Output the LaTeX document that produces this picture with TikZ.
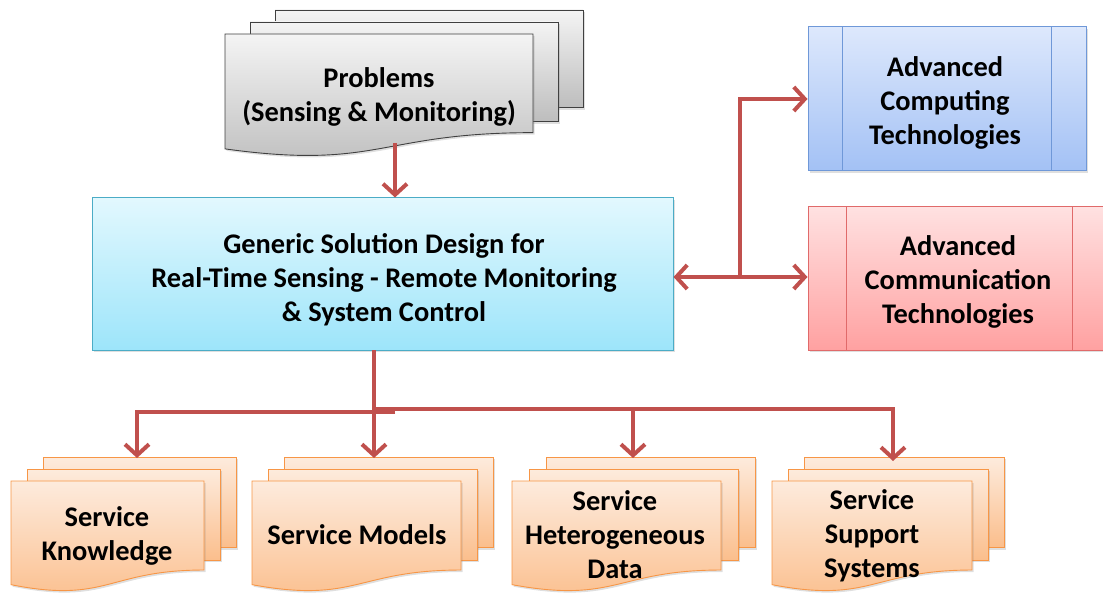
\documentclass[tikz,border=0pt]{standalone}
\usepackage{fontspec}
\setmainfont{Carlito}
\usetikzlibrary{arrows.meta,shadows}
\definecolor{arr}{HTML}{C0504D}
\definecolor{grayT}{HTML}{F4F4F4}
\definecolor{grayB}{HTML}{BDBDBD}
\definecolor{grayL}{HTML}{404040}
\definecolor{orT}{HTML}{FDEBDD}
\definecolor{orB}{HTML}{FBBE8C}
\definecolor{orL}{HTML}{F79646}
\definecolor{cyT}{HTML}{E2F8FE}
\definecolor{cyB}{HTML}{9DE5FA}
\definecolor{cyL}{HTML}{4BACC6}
\definecolor{blT}{HTML}{DDE8FC}
\definecolor{blB}{HTML}{A3C1F5}
\definecolor{blL}{HTML}{6F98D8}
\definecolor{rdT}{HTML}{FFE1E1}
\definecolor{rdB}{HTML}{FFA1A1}
\definecolor{rdL}{HTML}{E06A6A}
\newcommand{\mdoc}[7]{%
  \path[#1] ({#2+2*#6},{#3-2*#7}) rectangle ({#2+#4+2*#6},{#3+0.6*#5});
  \path[#1] ({#2+#6},{#3-#7}) rectangle ({#2+#4+#6},{#3+0.714*#5});
  \path[#1] (#2,#3) -- ({#2+#4},#3) -- ({#2+#4},{#3+0.802*#5})
    .. controls ({#2+#4/2},{#3+0.802*#5}) and ({#2+#4/2},{#3+1.1075*#5}) .. (#2,{#3+0.934*#5}) -- cycle;}
\tikzset{
  shd/.style={drop shadow={opacity=0.25,shadow xshift=1.5pt,shadow yshift=-2pt}},
  graydoc/.style={draw=grayL,line width=0.9pt,top color=grayT,bottom color=grayB,shd},
  ordoc/.style={draw=orL,line width=0.9pt,top color=orT,bottom color=orB,shd},
  txt/.style={font=\fontsize{28.4}{34}\selectfont\bfseries,align=center,inner sep=0pt},
  mainbox/.style={draw=cyL,line width=1pt,top color=cyT,bottom color=cyB,shd,
    minimum width=581pt,minimum height=152pt},
  compbox/.style={draw=blL,line width=1pt,top color=blT,bottom color=blB,shd,
    minimum width=278pt,minimum height=144pt},
  commbox/.style={draw=rdL,line width=1pt,top color=rdT,bottom color=rdB,shd,
    minimum width=302pt,minimum height=143pt},
  conn/.style={draw=arr,line width=4pt,-{Straight Barb[length=11pt,width=24pt]}},
}
\begin{document}
\begin{tikzpicture}[x=1pt,y=-1pt]
\clip (0,0) rectangle (1103,596);
% problems document stack
\mdoc{graydoc}{225}{34}{308}{123}{25}{12}
\node[txt] (prob) at (379,96.5) {Problems\\(Sensing \& Monitoring)};
% main box
\node[mainbox] (main) at (382.5,274) {};
\node[txt] (maint) at (384,280) {Generic Solution Design for\\Real-Time Sensing - Remote Monitoring\\\& System Control};
% right boxes
\node[compbox] (comp) at (947,99) {};
\draw[blL,line width=1pt] (842,27) -- (842,171) (1051,27) -- (1051,171);
\node[txt] (compt) at (945,102.5) {Advanced\\Computing\\Technologies};
\node[commbox] (comm) at (959,278.5) {};
\draw[rdL,line width=1pt] (846,207) -- (846,350) (1072,207) -- (1072,350);
\node[txt] (commt) at (958,281.5) {Advanced\\Communication\\Technologies};
% bottom documents
\mdoc{ordoc}{11}{481}{193}{111}{16}{12}
\mdoc{ordoc}{252}{481}{209}{111}{16}{12}
\mdoc{ordoc}{512}{481}{209}{111}{17}{12}
\mdoc{ordoc}{772}{481}{200}{111}{16}{12}
\node[txt] (d1) at (107,536) {Service\\Knowledge};
\node[txt] (d2) at (357,535) {Service Models};
\node[txt] (d3) at (615,534.5) {Service\\Heterogeneous\\Data};
\node[txt] (d4) at (872,536) {Service\\Support\\Systems};
% connectors
\coordinate (pb) at (395,143);
\draw[conn] (pb) -- (pb |- main.north);
\coordinate (j) at (740,277);
\draw[conn,{Straight Barb[length=11pt,width=24pt]}-{Straight Barb[length=11pt,width=24pt]}] (main.east |- j) -- (comm.west |- j);
\draw[conn] (j) |- (comp.west);
\coordinate (s) at (374,350);
\coordinate (k1) at (137,458);
\coordinate (k2) at (374,458);
\coordinate (k3) at (633,458);
\coordinate (k4) at (893,461);
\coordinate (hl) at (395,412);
\coordinate (hr) at (374,409);
\draw[conn] (hl) -| (k1);
\draw[conn] (hr) -| (k4);
\draw[conn] (k3 |- hr) -- (k3);
\draw[conn] (s) -- (k2);
\end{tikzpicture}
\end{document}
